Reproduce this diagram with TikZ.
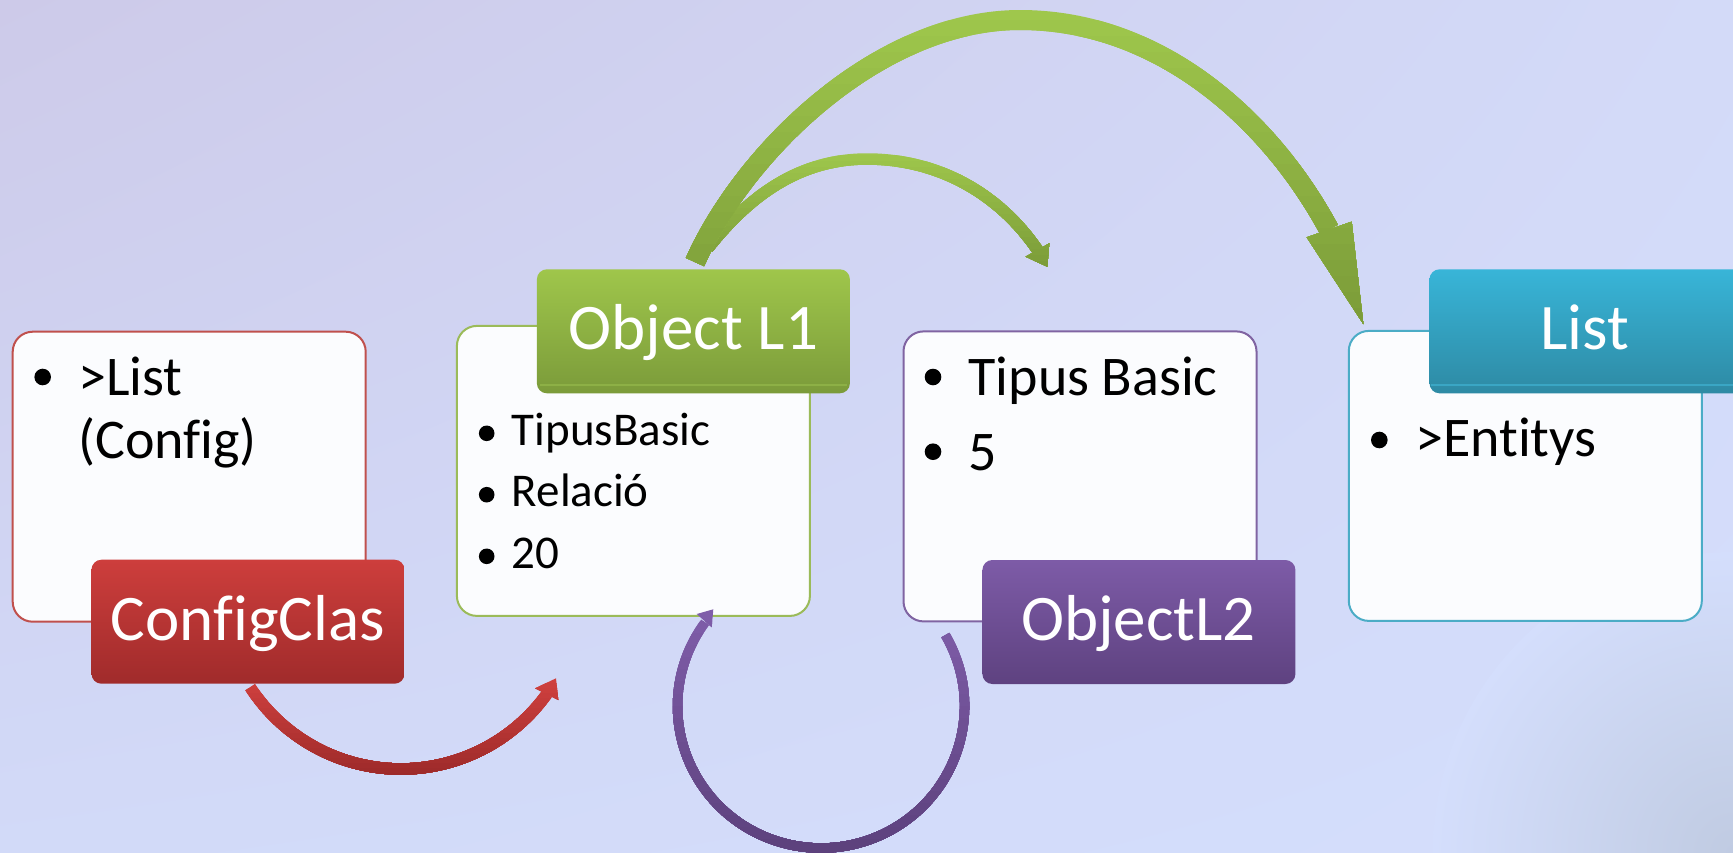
\documentclass[tikz,border=0pt]{standalone}
\usepackage{fontspec}
\setmainfont[Ligatures={NoCommon,NoContextual}]{Carlito}
\usetikzlibrary{shadings}
\begin{document}
\definecolor{bgUL}{HTML}{CDCAE9}
\definecolor{bgUR}{HTML}{D3DAF8}
\definecolor{bgLL}{HTML}{D2DAF8}
\definecolor{bgLR}{HTML}{D4DEFC}
\definecolor{bgC}{HTML}{C0CBE2}
\definecolor{boxfill}{HTML}{FBFCFE}
\definecolor{redB}{HTML}{C0504D}
\definecolor{greenB}{HTML}{9BBB59}
\definecolor{purpleB}{HTML}{8064A2}
\definecolor{tealB}{HTML}{4BACC6}
\definecolor{redT}{HTML}{CD3E3C}
\definecolor{redD}{HTML}{A02B2B}
\definecolor{greenT}{HTML}{9FC64B}
\definecolor{greenD}{HTML}{7B9B3A}
\definecolor{purpleT}{HTML}{7D5BA7}
\definecolor{purpleD}{HTML}{5E4280}
\definecolor{tealT}{HTML}{38B5D8}
\definecolor{tealD}{HTML}{2E8AA4}
\definecolor{greenLn}{HTML}{8DB046}
\definecolor{tealLn}{HTML}{3AA6C4}
\definecolor{arRedT}{HTML}{CF403E}
\definecolor{arRedD}{HTML}{9A2929}
\definecolor{arGrT}{HTML}{9FC74C}
\definecolor{arGrD}{HTML}{7A9A38}
\definecolor{arPuT}{HTML}{7F5DA9}
\definecolor{arPuD}{HTML}{5B407B}
\newcommand{\labfont}{\fontsize{65}{78}\selectfont}
\newcommand{\bigtxt}{\fontsize{56}{67}\selectfont}
\newcommand{\smtxt}{\fontsize{47}{56}\selectfont}
\newcommand{\gradband}[5]{%
  \foreach \gi in {0,...,20}{%
    \pgfmathsetmacro{\gy}{ifthenelse(\gi==0,#1-80,#1+(#2-#1)*\gi/20)}%
    \pgfmathtruncatemacro{\gp}{5*\gi}%
    \begin{scope}
      \clip (-50,\gy) rectangle (1800,#2+60);
      \colorlet{gc}{#4!\gp!#3}%
      #5
    \end{scope}
  }%
}
\begin{tikzpicture}[x=1pt,y=-1pt,
  wbox/.style={rectangle, rounded corners=20pt, draw=#1, line width=2pt, fill=boxfill,
    minimum width=353pt, minimum height=290pt, inner sep=0pt},
  lab/.style 2 args={rectangle, rounded corners=10pt, top color=#1, bottom color=#2,
    draw=none, minimum width=313pt, minimum height=124pt, inner sep=0pt},
  labtxt/.style={anchor=base, inner sep=0pt, text=white, font=\labfont},
  bodyL/.style={anchor=base west, inner sep=0pt, text=black, font=\bigtxt},
  bodyS/.style={anchor=base west, inner sep=0pt, text=black, font=\smtxt},
  bul/.style={fill=black}
]
\useasboundingbox (0,0) rectangle (1733,852);
% background
\shade[upper left=bgUL, upper right=bgUR, lower left=bgLL, lower right=bgLR] (0,0) rectangle (1733,852);
\begin{scope}
  \clip (0,0) rectangle (1733,852);
  \shade[inner color=bgC, outer color=bgLR] (1733,852) circle (300);
\end{scope}

% ---------- box 1 : ConfigClas
\node[wbox=redB] (b1) at (189.2,476.7) {};
\fill[bul] (42.7,377) circle (8.3);
\node[bodyL] (t1a) at (78,395) {>List};
\node[bodyL] (t1b) at (78,458) {(Config)};
\node[lab={redT}{redD}] (l1) at (248,621.7) {};
\node[labtxt] (l1t) at (248,640) {ConfigClas};

% ---------- box 2 : Object L1
\node[wbox=greenB] (b2) at (633.4,470.9) {};
\fill[bul] (486.7,433.3) circle (7.8);
\fill[bul] (486.7,494.7) circle (7.8);
\fill[bul] (486.7,556.3) circle (7.8);
\node[bodyS] (t2a) at (511.7,445) {TipusBasic};
\node[bodyS] (t2b) at (511.7,506.7) {Relació};
\node[bodyS] (t2c) at (511.7,568) {20};
\node[lab={greenT}{greenD}] (l2) at (693.4,331.3) {};
\draw[greenLn, line width=1.2pt] (540,385) -- (847,385);
\node[labtxt] (l2t) at (693.4,349.3) {Object L1};

% ---------- box 3 : ObjectL2
\node[wbox=purpleB] (b3) at (1080,476.4) {};
\fill[bul] (933,377) circle (8.3);
\fill[bul] (933,451.7) circle (8.3);
\node[bodyL] (t3a) at (968.3,395) {Tipus Basic};
\node[bodyL] (t3b) at (968.3,470) {5};
\node[lab={purpleT}{purpleD}] (l3) at (1138.9,622) {};
\node[labtxt] (l3t) at (1138.4,640) {ObjectL2};

% ---------- box 4 : List
\node[wbox=tealB] (b4) at (1525.3,475.9) {};
\fill[bul] (1379.3,440) circle (8.3);
\node[bodyL] (t4a) at (1415,456.7) {>Entitys};
\node[lab={tealT}{tealD}] (l4) at (1586,331.3) {};
\draw[tealLn, line width=1.2pt] (1431,385) -- (1740,385);
\node[labtxt] (l4t) at (1585,349.3) {List};

% ---------- connector coordinates
\coordinate (rs) at (250.2,687.2);
\coordinate (ps) at (945.3,635);
\coordinate (sgs) at (708,248);
\coordinate (sgm) at (867,159);
\coordinate (sge) at (1037.5,250);
\coordinate (bgs) at (695,262);
\coordinate (bgm) at (1020,20);
\coordinate (bge) at (1329,229.5);

% red arrow: ConfigClas -> Object L1
\gradband{678}{778}{arRedT}{arRedD}{%
  \draw[gc, line width=11.5pt] (rs) arc[start angle=147, end angle=35.6, radius=179.6];
  \fill[gc] (535,688.3) -- (558.3,700) -- (556,678.3) -- cycle;
}

% purple loop: ObjectL2 -> Object L1
\gradband{609}{852}{arPuT}{arPuD}{%
  \draw[gc, line width=9.5pt] (ps) arc[start angle=-30, end angle=216.1, x radius=143.5, y radius=142];
  \fill[gc] (696.7,614) -- (711.7,627.3) -- (713.3,609.3) -- cycle;
}

% small green arrow: Object L1 -> ObjectL2
\gradband{150}{267}{arGrT}{arGrD}{%
  \draw[gc, line width=11.5pt] (sgs) .. controls (750,195) and (800,159) .. (sgm)
        .. controls (940,159) and (1000,195) .. (sge);
  \fill[gc] (1025.7,256.7) -- (1049.3,243.3) -- (1047.3,266.7) -- cycle;
}

% big green arrow: Object L1 -> List
\gradband{5}{324}{arGrT}{arGrD}{%
  \draw[gc, line width=20pt] (bgs) .. controls (745,150) and (880,20) .. (bgm)
        .. controls (1160,20) and (1270,120) .. (bge);
  \fill[gc] (1306.7,237.3) -- (1351.7,221.7) -- (1363.3,324) -- cycle;
}
\end{tikzpicture}
\end{document}
